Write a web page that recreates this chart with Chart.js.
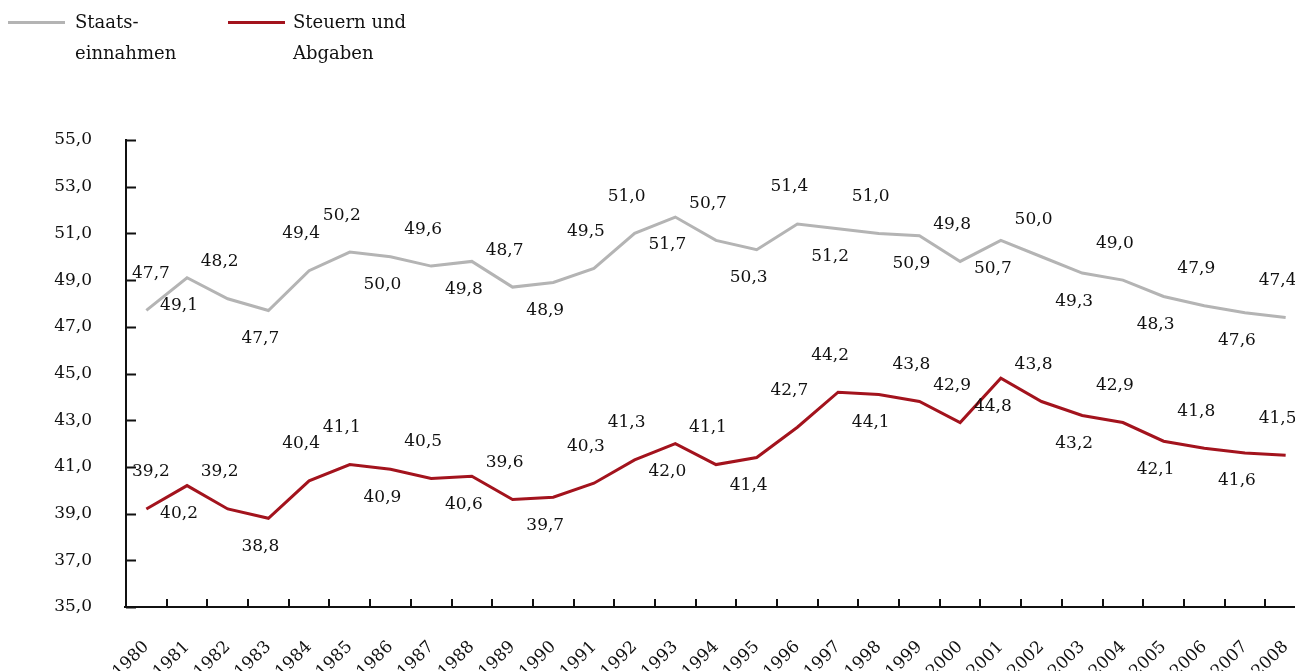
<!DOCTYPE html>
<html>
<head>
<meta charset="utf-8">
<script src="https://cdn.jsdelivr.net/npm/chart.js@4.4.1/dist/chart.umd.min.js"></script>
<style>
  html, body { margin: 0; padding: 0; background: #fff; overflow: hidden; width: 1295px; height: 671px; }
  #wrap { position: relative; width: 1306px; height: 671px; }
  #legend { position: absolute; left: 0; top: 0; font-family: "DejaVu Serif", serif; font-size: 18px; color: #111; }
  .item { position: absolute; top: 6px; line-height: 31px; white-space: nowrap; }
  .swatch { position: absolute; top: 15px; height: 3px; width: 57px; }
  .txt { position: absolute; top: 0; }
</style>
</head>
<body>
<div id="wrap">
  <canvas id="c" width="1306" height="671"></canvas>
  <div id="legend">
    <div class="item" style="left:8px"><div class="swatch" style="background:#b4b4b4;left:0"></div><div class="txt" style="left:67px">Staats-<br>einnahmen</div></div>
    <div class="item" style="left:228px"><div class="swatch" style="background:#a3131d;left:0"></div><div class="txt" style="left:65px">Steuern und<br>Abgaben</div></div>
  </div>
</div>
<script>
const years = ['1980','1981','1982','1983','1984','1985','1986','1987','1988','1989','1990','1991','1992','1993','1994','1995','1996','1997','1998','1999','2000','2001','2002','2003','2004','2005','2006','2007','2008'];
const staatseinnahmen = [47.7,49.1,48.2,47.7,49.4,50.2,50.0,49.6,49.8,48.7,48.9,49.5,51.0,51.7,50.7,50.3,51.4,51.2,51.0,50.9,49.8,50.7,50.0,49.3,49.0,48.3,47.9,47.6,47.4];
const steuernUndAbgaben = [39.2,40.2,39.2,38.8,40.4,41.1,40.9,40.5,40.6,39.6,39.7,40.3,41.3,42.0,41.1,41.4,42.7,44.2,44.1,43.8,42.9,44.8,43.8,43.2,42.9,42.1,41.8,41.6,41.5];
const yMin = 35, yMax = 55, yStep = 2;
// label side: A = above, B = below
const staatsSides = 'ABABAABABABAABABABABABABABABA'.split('');
const steuernSides = 'ABABAABABABAABABAABAABABABABA'.split('');

const FONT = '"DejaVu Serif", serif';
const fmt = v => v.toFixed(1).replace('.', ',');

const labelPlugin = {
  id: 'pointLabels',
  afterDatasetsDraw(chart) {
    const ctx = chart.ctx;
    const a = chart.chartArea;
    ctx.save();
    ctx.font = '17px ' + FONT;
    ctx.fillStyle = '#111';
    ctx.textAlign = 'center';
    ctx.textBaseline = 'middle';
    chart.data.datasets.forEach((ds, di) => {
      const meta = chart.getDatasetMeta(di);
      meta.data.forEach((pt, i) => {
        const txt = fmt(ds.data[i]);
        const half = ctx.measureText(txt).width / 2;
        const side = ds.labelSides[i];
        const y = side === 'A' ? pt.y - 37 : pt.y + 28;
        const x = Math.max(pt.x - 8, a.left + 6 + half);
        ctx.fillText(txt, x, y);
      });
    });
    ctx.restore();
  }
};

const tickPlugin = {
  id: 'innerTicks',
  afterDraw(chart) {
    const ctx = chart.ctx;
    const a = chart.chartArea;
    const ys = chart.scales.y;
    ctx.save();
    ctx.strokeStyle = '#111';
    ctx.lineWidth = 2;
    ctx.beginPath();
    ys.ticks.forEach(t => {
      const y = Math.round(ys.getPixelForValue(t.value)) + 0.5;
      ctx.moveTo(a.left, y); ctx.lineTo(a.left + 10, y);
    });
    const n = years.length;
    const w = (a.right - a.left) / n;
    for (let i = 1; i <= n; i++) {
      const x = Math.round(a.left + i * w);
      ctx.moveTo(x, a.bottom); ctx.lineTo(x, a.bottom - 8);
    }
    ctx.moveTo(a.left - 2, a.bottom); ctx.lineTo(a.left, a.bottom);
    ctx.stroke();
    ctx.restore();
  }
};

new Chart(document.getElementById('c'), {
  type: 'line',
  data: {
    labels: years,
    datasets: [
      { label: 'Staatseinnahmen', data: staatseinnahmen, borderColor: '#b4b4b4', borderWidth: 3, pointRadius: 0, tension: 0, labelSides: staatsSides },
      { label: 'Steuern und Abgaben', data: steuernUndAbgaben, borderColor: '#a3131d', borderWidth: 3, pointRadius: 0, tension: 0, labelSides: steuernSides }
    ]
  },
  options: {
    responsive: false,
    animation: false,
    layout: { padding: { top: 140, left: 0, right: 0, bottom: 0 } },
    plugins: { legend: { display: false }, tooltip: { enabled: false } },
    scales: {
      x: {
        offset: true,
        grid: { display: true, drawOnChartArea: false, drawTicks: false, offset: true },
        border: { display: true, color: '#111', width: 2 },
        ticks: { maxRotation: 45, minRotation: 45, padding: 30, color: '#111', font: { family: FONT, size: 17 }, autoSkip: false },
        afterFit: s => { s.height = 64; s.paddingRight = 0; s.paddingLeft = 0; }
      },
      y: {
        min: yMin, max: yMax,
        grid: { display: true, drawOnChartArea: false, drawTicks: false },
        border: { display: true, color: '#111', width: 2 },
        ticks: { stepSize: yStep, padding: 34, color: '#111', font: { family: FONT, size: 17 }, callback: v => fmt(v) },
        afterFit: s => { s.width = 126; }
      }
    }
  },
  plugins: [labelPlugin, tickPlugin]
});
</script>
</body>
</html>
